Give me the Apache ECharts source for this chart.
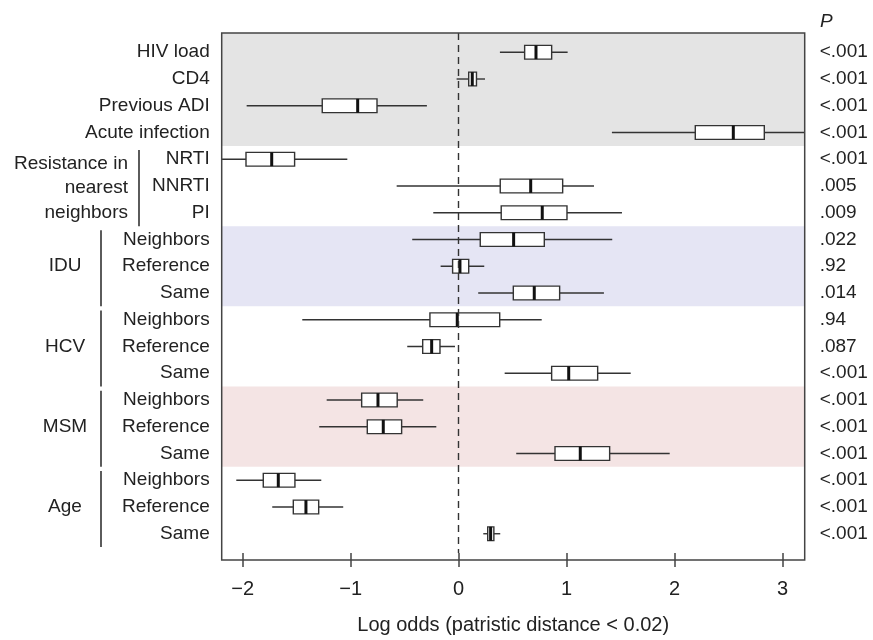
<!DOCTYPE html>
<html><head><meta charset="utf-8">
<script src="https://cdn.jsdelivr.net/npm/echarts@6/dist/echarts.min.js"></script>
<style>html,body{margin:0;padding:0;background:#fff}#c{width:873px;height:640px}</style>
</head><body><div id="c"></div>
<script>
const rowLabels = ['HIV load','CD4','Previous ADI','Acute infection','NRTI','NNRTI','PI',
  'Neighbors','Reference','Same','Neighbors','Reference','Same',
  'Neighbors','Reference','Same','Neighbors','Reference','Same'];
const pValues = ['<.001','<.001','<.001','<.001','<.001','.005','.009',
  '.022','.92','.014','.94','.087','<.001','<.001','<.001','<.001','<.001','<.001','<.001'];
const whiskerLow  = [0.382,-0.019,-1.963,1.419,-2.3,-0.574,-0.235,-0.43,-0.167,0.181,-1.448,-0.476,0.426,-1.222,-1.291,0.533,-2.059,-1.726,0.228];
const q1          = [0.611,0.093,-1.263,2.191,-1.969,0.385,0.394,0.2,-0.056,0.506,-0.266,-0.333,0.861,-0.898,-0.846,0.892,-1.809,-1.531,0.269];
const median      = [0.716,0.126,-0.935,2.543,-1.731,0.667,0.774,0.509,0.012,0.7,-0.013,-0.25,1.019,-0.747,-0.698,1.126,-1.67,-1.414,0.296];
const q3          = [0.861,0.165,-0.756,2.83,-1.519,0.963,1.003,0.793,0.093,0.935,0.38,-0.173,1.287,-0.569,-0.528,1.398,-1.516,-1.296,0.326];
const whiskerHigh = [1.009,0.244,-0.294,3.4,-1.031,1.253,1.512,1.422,0.237,1.345,0.769,-0.034,1.593,-0.328,-0.207,1.954,-1.272,-1.069,0.385];
const groupNames = ['Resistance in\nnearest\nneighbors','IDU','HCV','MSM','Age'];
const groupFirst = [5,8,11,14,17];
const groupLast  = [7,10,13,16,19];
const bandStart = [0,7.5,13.5];
const bandEnd   = [4.5,10.5,16.5];
const bandColors = ['#e4e4e4','#e5e5f4','#f4e4e4'];
const xTicks = [-2,-1,0,1,2,3];
const xTitle = 'Log odds (patristic distance < 0.02)';

const GL=221.7, GR=804.7, GT=33, GB=560, W=873, H=640;
const FONT = '"Liberation Sans", Arial, Helvetica, sans-serif';
const TXT = '#222';
const rows = rowLabels.map((_, i) => i + 1);
const boxData = rows.map((r, i) => [r, whiskerLow[i], q1[i], median[i], q3[i], whiskerHigh[i]]);
const bandData = bandStart.map((s, i) => [s, bandEnd[i]]);
const groupData = groupNames.map((n, i) => [groupFirst[i], groupLast[i]]);

const chart = echarts.init(document.getElementById('c'));
const yAxisBase = {
  type: 'value', min: 0.28, max: 19.72, inverse: true,
  axisLine: {show: false}, axisTick: {show: false}, splitLine: {show: false}
};
chart.setOption({
  animation: false,
  grid: {left: GL, top: GT, width: GR - GL, height: GB - GT},
  xAxis: {
    type: 'value', min: -2.194, max: 3.204,
    axisLine: {show: false}, splitLine: {show: false},
    axisTick: {show: true, length: 14, customValues: xTicks, lineStyle: {color: '#444', width: 1.5}},
    axisLabel: {customValues: xTicks, margin: 26, fontSize: 20, fontFamily: FONT, color: TXT,
      formatter: v => v < 0 ? '\u2212' + Math.abs(v) : String(v)},
    name: xTitle, nameLocation: 'middle', nameGap: 62,
    nameTextStyle: {fontSize: 20, fontFamily: FONT, color: TXT}
  },
  yAxis: [
    Object.assign({}, yAxisBase, {position: 'left',
      axisLabel: {customValues: rows, margin: 12, fontSize: 19, fontFamily: FONT, color: TXT,
        formatter: v => rowLabels[Math.round(v) - 1]}}),
    Object.assign({}, yAxisBase, {position: 'right',
      axisLabel: {customValues: rows, margin: 15, fontSize: 19, fontFamily: FONT, color: TXT, align: 'left',
        formatter: v => pValues[Math.round(v) - 1]}})
  ],
  graphic: [
    {type: 'rect', z: 100, silent: true, shape: {x: GL, y: GT, width: GR - GL, height: GB - GT},
      style: {fill: 'none', stroke: '#444', lineWidth: 1.5}},
    {type: 'text', z: 100, left: 820, top: 12, style: {text: 'P', fontSize: 19, fontStyle: 'italic', fontFamily: FONT, fill: TXT}}
  ],
  series: [
    {
      type: 'custom', z: 1, silent: true, clip: true, data: bandData,
      renderItem(params, api) {
        const cs = params.coordSys;
        let y1 = api.coord([0, api.value(0)])[1];
        let y2 = api.coord([0, api.value(1)])[1];
        y1 = Math.max(y1, cs.y); y2 = Math.min(y2, cs.y + cs.height);
        return {type: 'rect', shape: {x: cs.x, y: y1, width: cs.width, height: y2 - y1},
          style: {fill: bandColors[params.dataIndex]}};
      }
    },
    {
      type: 'custom', z: 3, silent: true, clip: true, data: boxData,
      renderItem(params, api) {
        const r = api.value(0);
        const lo = api.coord([api.value(1), r]);
        const a = api.coord([api.value(2), r]);
        const m = api.coord([api.value(3), r]);
        const b = api.coord([api.value(4), r]);
        const hi = api.coord([api.value(5), r]);
        const h = api.size([0, 0.258])[1];
        return {type: 'group', children: [
          {type: 'line', shape: {x1: lo[0], y1: lo[1], x2: hi[0], y2: hi[1]}, style: {stroke: '#333', lineWidth: 1.4}},
          {type: 'rect', shape: {x: a[0], y: a[1] - h, width: b[0] - a[0], height: 2 * h}, style: {fill: '#fff', stroke: '#333', lineWidth: 1.4}},
          {type: 'line', shape: {x1: m[0], y1: m[1] - h, x2: m[0], y2: m[1] + h}, style: {stroke: '#111', lineWidth: 3}}
        ]};
      },
      markLine: {
        silent: true, symbol: ['none', 'none'], label: {show: false},
        lineStyle: {type: [7, 5], color: '#333', width: 1.4},
        data: [{xAxis: 0}]
      }
    },
    {
      type: 'custom', z: 3, silent: true, clip: false, data: groupData,
      renderItem(params, api) {
        const i = params.dataIndex;
        const f = api.value(0), l = api.value(1);
        const top = api.coord([0, f - 0.35])[1];
        const bot = Math.min(api.coord([0, l + 0.5])[1], GB);
        const isRes = i === 0;
        const bx = isRes ? 139 : 101;
        const mid = api.coord([0, (f + l) / 2 + (isRes ? 0.07 : 0)])[1];
        return {type: 'group', children: [
          {type: 'line', shape: {x1: bx, y1: top, x2: bx, y2: bot}, style: {stroke: '#333', lineWidth: 1.6}},
          {type: 'text', x: isRes ? 128 : 65, y: mid, style: {
            text: groupNames[i], fontSize: 19, fontFamily: FONT, fill: TXT,
            align: isRes ? 'right' : 'center', verticalAlign: 'middle', lineHeight: 24.5}}
        ]};
      }
    }
  ]
});
</script></body></html>
